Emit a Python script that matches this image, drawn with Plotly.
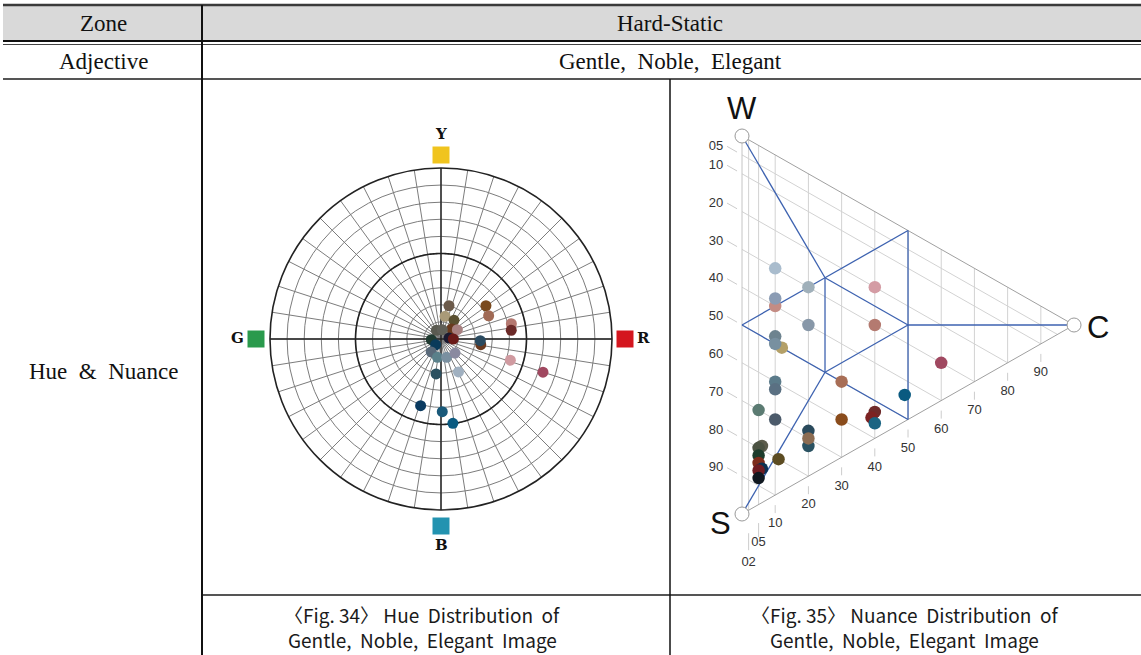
import numpy as np
import plotly.graph_objects as go

W_PX, H_PX = 1141, 655

# ---------------- data: hue distribution (polar) ----------------
hue_theta = [76.5, 36.5, 26.0, 80, 55, 12.3, 7.1, 43, 29.7, 118, 82, 7, 0,
             184, 227, 351.8, 357.5, 233, 259, 287, 315, 343, 342, 262, 298,
             253, 271, 278]
hue_r = [20.0, 32.7, 31.0, 13.5, 13.3, 42.1, 41.4, 8.6, 11.0, 5.8, 5.5, 4.7, 7.2,
         5.7, 4.6, 23.5, 23.0, 9.5, 10.9, 11.2, 11.6, 42.4, 62.7, 20.6, 21.8,
         40.8, 42.5, 49.8]
hue_colors = ["#6b5a4a", "#7a4a1e", "#a06a55", "#a99a78", "#5a5030", "#b47870",
              "#6b2a28", "#6a3a1e", "#a88080", "#5a5a50", "#606058", "#1a1a30",
              "#6a1a18", "#1f3a30", "#0a3a5a", "#6a3a20", "#2a4a60", "#5a6a7a",
              "#5a808a", "#7a90a0", "#8a8aa0", "#d09aa0", "#a04860", "#2a5060",
              "#a0b0c0", "#0a3a60", "#1a5a7a", "#0a5a80"]

# ---------------- data: nuance distribution (triangle) ----------------
nu_c = [10, 20, 40, 10, 10, 20, 40, 12, 10, 10, 60, 10, 10, 30, 49, 5, 10, 30,
        40, 39, 40, 20, 20, 20, 6, 5, 5, 5, 6, 5, 5, 11]
nu_s = [30, 30, 20, 40, 38, 40, 30, 50, 48, 50, 30, 60, 62, 50, 44, 70, 70, 60,
        53, 55, 56, 68, 72, 70, 79, 80, 82, 84, 85, 86, 88, 80]
nu_colors = ["#a9bccd", "#a0b0ba", "#d49ca4", "#c48c84", "#8b9cb4", "#8797a8",
             "#b47a70", "#b4a068", "#6d838f", "#7890a0", "#a04860", "#5b7b8a",
             "#5a7082", "#a86e56", "#0a5a80", "#5b7b72", "#4b5a6a", "#8a4c1c",
             "#6e2a2a", "#7c2222", "#1a6482", "#2a4a5c", "#2a5262", "#8c6c52",
             "#5c5c4c", "#4b5242", "#1c3c2c", "#7c2c1c", "#0c3252", "#6e1c22",
             "#101820", "#5c4c22"]

c_ticks = [2, 5, 10, 20, 30, 40, 50, 60, 70, 80, 90]
c_tick_labels = ["02", "05", "10", "20", "30", "40", "50", "60", "70", "80", "90"]
s_ticks = [5, 10, 20, 30, 40, 50, 60, 70, 80, 90]
s_tick_labels = ["05", "10", "20", "30", "40", "50", "60", "70", "80", "90"]

# zone boundary segments, (c, s) pairs
zone_from = [(0, 0), (25, 25), (50, 0), (50, 25), (0, 50), (25, 25), (25, 25), (50, 25), (25, 50)]
zone_to = [(25, 25), (50, 0), (50, 50), (100, 0), (25, 25), (25, 50), (50, 25), (25, 50), (0, 100)]
zone_line_s = [50]  # s = 50 line from c = 0 to 50
vertex_names = ["W", "S", "C"]
vertex_cs = [(0, 0), (0, 100), (100, 0)]

# ---------------- helpers ----------------
def px(x):
    return x / W_PX


def py(y):
    return 1 - y / H_PX


K = np.sqrt(3) / 2


def tern(c, s):
    return K * c, 100 - s - 0.5 * c


fig = go.Figure()

# ---------------- polar chart ----------------
theta_full = np.linspace(0, 360, 361)
fig.add_trace(go.Scatterpolar(r=[50] * len(theta_full), theta=theta_full, mode="lines",
                              line=dict(color="#222222", width=1.6), hoverinfo="skip",
                              showlegend=False, subplot="polar"))
fig.add_trace(go.Scatterpolar(r=[100, 0, 100], theta=[0, 0, 180], mode="lines",
                              line=dict(color="#222222", width=1.4), hoverinfo="skip",
                              showlegend=False, subplot="polar"))
fig.add_trace(go.Scatterpolar(r=[100, 0, 100], theta=[90, 90, 270], mode="lines",
                              line=dict(color="#222222", width=1.4), hoverinfo="skip",
                              showlegend=False, subplot="polar"))
fig.add_trace(go.Scatterpolar(r=hue_r, theta=hue_theta, mode="markers",
                              marker=dict(size=11, color=hue_colors, line=dict(width=0)),
                              showlegend=False, subplot="polar"))

cx, cy, R = 441, 339, 171
fig.update_layout(polar=dict(
    domain=dict(x=[px(cx - R), px(cx + R)], y=[py(cy + R), py(cy - R)]),
    bgcolor="white",
    radialaxis=dict(range=[0, 100], dtick=10, showticklabels=False, ticks="",
                    showline=False, gridcolor="#7c7c7c", gridwidth=0.9),
    angularaxis=dict(rotation=0, direction="counterclockwise", tickmode="linear",
                     tick0=0, dtick=9, showticklabels=False, ticks="",
                     gridcolor="#7c7c7c", gridwidth=0.9,
                     linecolor="#222222", linewidth=1.6),
))

shapes = []
annotations = []

# hue key squares
hue_keys = [("Y", "#f0c41e", 441, 155, 441, 134),
            ("R", "#d4161e", 625, 339, 643, 338),
            ("B", "#2393b0", 441, 526, 441, 545),
            ("G", "#2a9a4c", 256, 339, 237, 338)]
for name, col, sx, sy, lx, ly in hue_keys:
    shapes.append(dict(type="rect", xref="paper", yref="paper",
                       x0=px(sx - 8.5), x1=px(sx + 8.5), y0=py(sy + 8.5), y1=py(sy - 8.5),
                       fillcolor=col, line=dict(width=0), layer="above"))
    annotations.append(dict(text="<b>%s</b>" % name, xref="paper", yref="paper",
                            x=px(lx), y=py(ly), showarrow=False,
                            font=dict(family="DejaVu Serif", size=15, color="#111"),
                            xanchor="center", yanchor="middle"))

# ---------------- nuance triangle ----------------
def add_line(xs, ys, color, width):
    fig.add_trace(go.Scatter(x=xs, y=ys, mode="lines", line=dict(color=color, width=width),
                             hoverinfo="skip", showlegend=False, xaxis="x2", yaxis="y2"))

# grid: constant chromaticness
gx, gy = [], []
for c in c_ticks:
    x0, y0 = tern(c, 100 - c)
    x1, y1 = tern(c, 0)
    gx += [x0, x1, None]
    gy += [y0, y1, None]
# grid: constant blackness
for s in s_ticks:
    x0, y0 = tern(0, s)
    x1, y1 = tern(100 - s, s)
    gx += [x0, x1, None]
    gy += [y0, y1, None]
add_line(gx, gy, "#d2d2d2", 1)

# ticks
tx, ty = [], []
c_tick_off = {2: (23, 40), 5: (18.5, 32.5)}
c_lab_off = {2: 53, 5: 38.5}
for c in c_ticks:
    x, ye = tern(c, 100 - c)
    a, b = c_tick_off.get(c, (10, 18))
    tx += [x, x, None]
    ty += [ye - a / 3.78, ye - b / 3.78, None]
for s in s_ticks:
    x0, y0 = tern(-1.5, s)
    x1, y1 = tern(-4.5, s)
    tx += [x0, x1, None]
    ty += [y0, y1, None]
add_line(tx, ty, "#cccccc", 1)

# edges
xw, yw = tern(0, 0)
xs_, ys_ = tern(0, 100)
xc, yc = tern(100, 0)
add_line([xs_, xw], [ys_, yw], "#c4c4c4", 1)
add_line([xw, xc, xs_], [yw, yc, ys_], "#a0a0a0", 1)

# zone lines
bx, by = [], []
for (c0, s0), (c1, s1) in zip(zone_from, zone_to):
    x0, y0 = tern(c0, s0)
    x1, y1 = tern(c1, s1)
    bx += [x0, x1, None]
    by += [y0, y1, None]
for s in zone_line_s:
    x0, y0 = tern(0, s)
    x1, y1 = tern(50, s)
    bx += [x0, x1, None]
    by += [y0, y1, None]
add_line(bx, by, "#3d62b0", 1.3)

# tick labels
lab_x, lab_y = [], []
for c in c_ticks:
    x, ye = tern(c, 100 - c)
    lab_x.append(x)
    lab_y.append(ye - c_lab_off.get(c, 29) / 3.78)
fig.add_trace(go.Scatter(x=lab_x, y=lab_y, mode="text", text=c_tick_labels,
                         textfont=dict(family="Liberation Sans", size=13, color="#333"),
                         hoverinfo="skip", showlegend=False, xaxis="x2", yaxis="y2"))
lab_x, lab_y = [], []
for s in s_ticks:
    x, y = tern(0, s)
    lab_x.append(x - 26 / 3.834)
    lab_y.append(y + 8 / 3.78)
fig.add_trace(go.Scatter(x=lab_x, y=lab_y, mode="text", text=s_tick_labels,
                         textfont=dict(family="Liberation Sans", size=13, color="#333"),
                         hoverinfo="skip", showlegend=False, xaxis="x2", yaxis="y2"))

# data points
pts = [tern(c, s) for c, s in zip(nu_c, nu_s)]
fig.add_trace(go.Scatter(x=[p[0] for p in pts], y=[p[1] for p in pts], mode="markers",
                         marker=dict(size=12.5, color=nu_colors, line=dict(width=0)),
                         showlegend=False, xaxis="x2", yaxis="y2"))

# vertices
vpts = [tern(c, s) for c, s in vertex_cs]
fig.add_trace(go.Scatter(x=[p[0] for p in vpts], y=[p[1] for p in vpts], mode="markers",
                         marker=dict(size=14, color="white", line=dict(color="#999999", width=1)),
                         showlegend=False, hoverinfo="skip", xaxis="x2", yaxis="y2"))
v_shift = {"W": (0, 28), "S": (-22, -9), "C": (24, -2)}
for name, (x, y) in zip(vertex_names, vpts):
    dx, dy = v_shift[name]
    annotations.append(dict(text=name, xref="x2", yref="y2", x=x, y=y, xshift=dx, yshift=dy,
                            showarrow=False, font=dict(family="Liberation Sans", size=31, color="#111"),
                            xanchor="center", yanchor="middle"))

sx0 = 742
sy0 = 514
kx, ky = 3.834, 3.78
fig.update_layout(
    xaxis2=dict(domain=[px(700), px(1130)], range=[(700 - sx0) / kx, (1130 - sx0) / kx],
                visible=False, anchor="y2", fixedrange=True),
    yaxis2=dict(domain=[py(590), py(90)], range=[(sy0 - 590) / ky, (sy0 - 90) / ky],
                visible=False, anchor="x2", fixedrange=True),
)

# ---------------- table frame ----------------
shapes.insert(0, dict(type="rect", xref="paper", yref="paper", x0=px(3), x1=px(1141),
                      y0=py(41), y1=py(5.5), fillcolor="#d9d9d9", line=dict(width=0), layer="below"))

def hline(y, x0, x1, color, width):
    shapes.append(dict(type="line", xref="paper", yref="paper", x0=px(x0), x1=px(x1),
                       y0=py(y), y1=py(y), line=dict(color=color, width=width), layer="above"))


def vline(x, y0, y1, color, width):
    shapes.append(dict(type="line", xref="paper", yref="paper", x0=px(x), x1=px(x),
                       y0=py(y0), y1=py(y1), line=dict(color=color, width=width), layer="above"))


hline(5, 3, 1141, "#3a3a3a", 2.5)
hline(41, 3, 1141, "#111111", 2)
hline(44.5, 3, 1141, "#444444", 1.2)
hline(79, 3, 1141, "#555555", 2)
hline(595, 202, 1141, "#555555", 2)
vline(202, 5, 655, "#111111", 2)
vline(670, 79, 655, "#111111", 1.5)

serif = dict(family="Liberation Serif", size=23, color="#111")
sans = dict(family="Noto Sans CJK KR", size=19, color="#1a1a1a")
texts = [("Zone", 103, 24, serif), ("Hard-Static", 670, 24, serif),
         ("Adjective", 103, 62, serif), ("Gentle,  Noble,  Elegant", 670, 62, serif),
         ("Hue  &  Nuance", 103, 371, serif),
         ("〈Fig. 34〉 Hue  Distribution  of", 422, 614, sans),
         ("Gentle,  Noble,  Elegant  Image", 422, 639, sans),
         ("〈Fig. 35〉 Nuance  Distribution  of", 904, 614, sans),
         ("Gentle,  Noble,  Elegant  Image", 904, 639, sans)]
for t, x, y, f in texts:
    annotations.append(dict(text=t, xref="paper", yref="paper", x=px(x), y=py(y),
                            showarrow=False, font=f, xanchor="center", yanchor="middle"))

fig.update_layout(width=W_PX, height=H_PX, margin=dict(l=0, r=0, t=0, b=0),
                  paper_bgcolor="white", plot_bgcolor="white",
                  shapes=shapes, annotations=annotations, showlegend=False)

fig.write_html("out.html", config={"displayModeBar": False},
               post_script="document.body.style.margin='0';document.body.style.overflow='hidden';")
